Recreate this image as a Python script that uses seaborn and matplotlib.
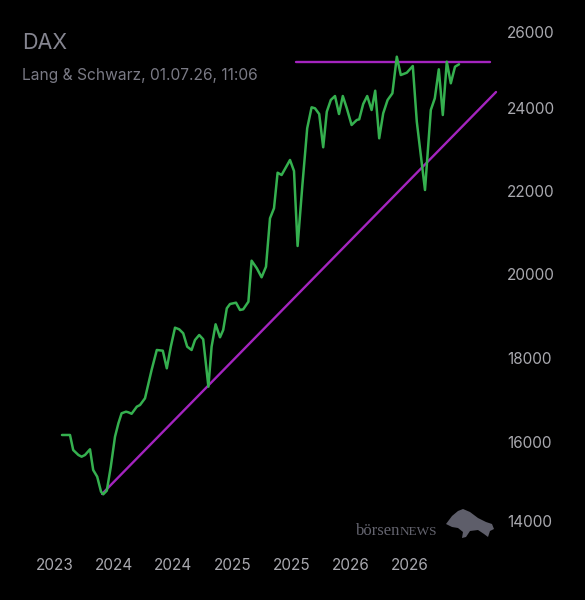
import matplotlib
matplotlib.use("Agg")
import matplotlib.pyplot as plt
import seaborn as sns
import pandas as pd
from matplotlib.transforms import ScaledTranslation
from matplotlib.patches import Polygon

# ---------------- data ----------------
weeks = [0, 2, 2.8, 4.1, 4.9, 5.75, 7, 7.8, 8.8, 9.75, 10.3, 11.2, 12.2, 13.25,
         14.1, 14.9, 16, 16.6, 17.4, 18.7, 19.5, 20.75, 22.4, 23.7, 25.2, 26.2,
         27.2, 28.25, 29.3, 30.3, 31.3, 32.4, 33.25, 34.3, 35.3, 36.6, 37.4,
         38.4, 39.5, 40.3, 41.2, 42, 42.8, 43.5, 44.5, 45.3, 46.6, 47.4, 48.7,
         49.9, 51, 52, 53, 53.9, 54.9, 57, 58, 58.9, 60.1, 61.3, 62.4, 63.25,
         64.3, 65.3, 66.2, 67.2, 68.25, 69.25, 70.2, 71.2, 72.4, 73.7, 74.3,
         75.3, 76.3, 77.4, 78.3, 79.3, 80.3, 81.4, 82.6, 83.7, 84.7, 86.2,
         87.7, 88.7, 89.75, 90.75, 92.2, 93.2, 94.2, 95.2, 96.2, 97.2, 98.25,
         99.25]
dax = [16156, 16156, 15796, 15677, 15636, 15677, 15813, 15317, 15157, 14798,
       14735, 14822, 15397, 16115, 16436, 16676, 16714, 16699, 16664, 16834,
       16874, 17035, 17713, 18192, 18175, 17753, 18271, 18726, 18687, 18592,
       18271, 18192, 18431, 18551, 18448, 17313, 18271, 18807, 18496, 18671,
       19190, 19293, 19310, 19325, 19150, 19166, 19349, 20331, 20149, 19933,
       20187, 21346, 21586, 22438, 22383, 22743, 22479, 20683, 22144, 23502,
       24005, 23981, 23844, 23047, 23899, 24180, 24275, 23844, 24275, 23981,
       23581, 23701, 23717, 24084, 24275, 23940, 24402, 23262, 23861, 24180,
       24340, 25217, 24778, 24833, 24994, 23660, 22819, 22024, 23940, 24220,
       24915, 23820, 25097, 24580, 24977, 25035]

trend_weeks = [10, 108.5]
trend_vals = [14743, 24371]
resist_weeks = [58.5, 107]
resist_vals = [25100, 25100]

x_tick_pos = [-1.9, 13, 27.8, 42.6, 57.4, 72.2, 87]
x_tick_labels = ["2023", "2024", "2024", "2025", "2025", "2026", "2026"]
y_ticks = [14000, 16000, 18000, 20000, 22000, 24000, 26000]

title = "DAX"
subtitle = "Lang & Schwarz, 01.07.26, 11:06"

# ---------------- style ----------------
GREEN = "#35b04f"
PURPLE = "#a424bf"
TICK = "#a8a8ae"

sns.set_theme(style="dark")
plt.rcParams["font.family"] = ["Inter", "DejaVu Sans"]

fig = plt.figure(figsize=(5.85, 6.0), dpi=100, facecolor="black")
ax = fig.add_axes([40 / 585, 1 - 525 / 600, 460 / 585, 501 / 600])
ax.set_facecolor("black")

df = pd.DataFrame({"week": weeks, "dax": dax})
sns.lineplot(x=trend_weeks, y=trend_vals, color=PURPLE, lw=1.7, ax=ax)
sns.lineplot(x=resist_weeks, y=resist_vals, color=PURPLE, lw=1.7, ax=ax)
sns.lineplot(data=df, x="week", y="dax", color=GREEN, lw=1.8, ax=ax,
             sort=False, estimator=None)

ax.set_xlim(-5.5, 109.5)
ax.set_ylim(14000, 26000)
ax.set_xlabel("")
ax.set_ylabel("")
ax.grid(False)
for s in ax.spines.values():
    s.set_visible(False)

ax.set_xticks(x_tick_pos)
ax.set_xticklabels(x_tick_labels)
ax.yaxis.tick_right()
ax.set_yticks(y_ticks)
ax.set_yticklabels([str(v) for v in y_ticks])
ax.tick_params(axis="x", length=0, pad=24, labelsize=11, colors=TICK)
ax.tick_params(axis="y", length=0, pad=5, labelsize=11, colors=TICK)

# nudge the edge labels inward like the reference
ylabs = ax.get_yticklabels()
ylabs[0].set_transform(ylabs[0].get_transform() + ScaledTranslation(0, 4 / 100, fig.dpi_scale_trans))
ylabs[-1].set_transform(ylabs[-1].get_transform() + ScaledTranslation(0, -8 / 100, fig.dpi_scale_trans))

# titles
fig.text(22 / 585, 1 - 49 / 600, title, fontsize=15.5, color="#858590",
         ha="left", va="baseline")
fig.text(22 / 585, 1 - 80 / 600, subtitle, fontsize=11.2, color="#7a7a85",
         ha="left", va="baseline")

# logo
fig.text(356 / 585, 1 - 535 / 600, "börsen", fontsize=12,
         family=["Liberation Serif", "DejaVu Serif"], color="#64646f",
         ha="left", va="baseline")
fig.text(400 / 585, 1 - 535 / 600, "NEWS", fontsize=9.5,
         family=["Liberation Serif", "DejaVu Serif"], color="#64646f",
         ha="left", va="baseline")
bull = [(446, 524), (452, 516), (458, 511), (463, 509), (470, 512), (478, 518),
        (486, 522), (492, 524), (494, 529), (490, 531), (488, 537), (484, 534),
        (478, 530), (470, 531), (466, 537), (462, 538), (463, 532), (458, 528),
        (452, 527)]
bull_fig = [(x / 585, 1 - y / 600) for x, y in bull]
fig.patches.append(Polygon(bull_fig, closed=True, transform=fig.transFigure,
                           facecolor="#5e5e6a", edgecolor="none"))

fig.savefig("out.png", dpi=100, facecolor="black")
